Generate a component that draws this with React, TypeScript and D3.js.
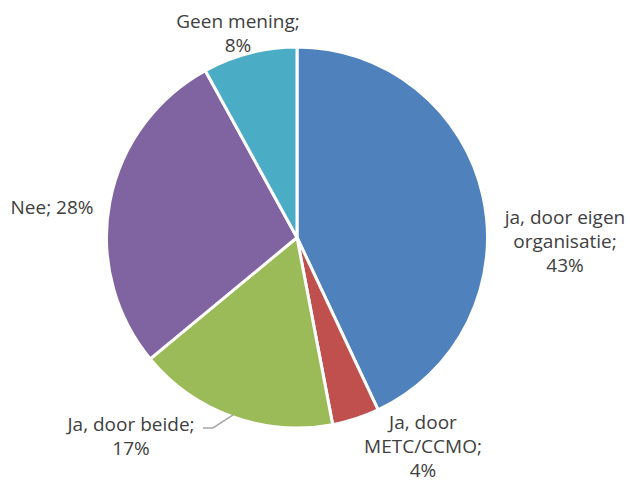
import React, { useEffect, useRef } from 'react';
import * as d3 from 'd3';

const categories = ['ja, door eigen organisatie', 'Ja, door METC/CCMO', 'Ja, door beide', 'Nee', 'Geen mening'];
const values = [43, 4, 17, 28, 8];
const labelLines = [
  ['ja, door eigen', 'organisatie;', '43%'],
  ['Ja, door', 'METC/CCMO;', '4%'],
  ['Ja, door beide;', '17%'],
  ['Nee; 28%'],
  ['Geen mening;', '8%'],
];
const colors = ['#4F81BD', '#C0504D', '#9BBB59', '#8064A2', '#4BACC6'];

// label anchor offsets relative to pie centre (first line centre)
const labelPos: [number, number][] = [
  [268, -20.5],
  [126, 184.5],
  [-166, 187],
  [-245, -30.5],
  [-59, -216],
];

export default function App() {
  const svgRef = useRef<SVGSVGElement>(null);

  useEffect(() => {
    if (!svgRef.current) return;
    const width = 631;
    const height = 489;
    const cx = 297;
    const cy = 237.5;
    const radius = 190.5;

    const svg = d3.select(svgRef.current);
    svg.selectAll('*').remove();
    svg.attr('width', width).attr('height', height);

    const g = svg.append('g').attr('transform', `translate(${cx},${cy})`);

    const pie = d3.pie<number>().sort(null).value((d) => d);
    const arcs = pie(values);
    const arc = d3.arc<d3.PieArcDatum<number>>().innerRadius(0).outerRadius(radius);

    g.selectAll('path')
      .data(arcs)
      .enter()
      .append('path')
      .attr('d', arc)
      .attr('fill', (_, i) => colors[i])
      .attr('stroke', '#fff')
      .attr('stroke-width', 3)
      .attr('stroke-linejoin', 'round')
      .append('title')
      .text((_, i) => categories[i]);

    // leader line for "Ja, door beide"
    const green = arcs[2];
    const mid = (green.startAngle + green.endAngle) / 2;
    const ex = Math.sin(mid) * radius * 0.99;
    const ey = -Math.cos(mid) * radius * 0.99;
    const lx = labelPos[2][0] + 72;
    const ly = labelPos[2][1] + 3.5;
    g.append('polyline')
      .attr('points', `${lx},${ly} ${lx + 10},${ly} ${ex},${ey}`)
      .attr('fill', 'none')
      .attr('stroke', '#a6a6a6')
      .attr('stroke-width', 1.5);

    labelLines.forEach((lines, i) => {
      const t = g.append('text')
        .attr('text-anchor', 'middle')
        .attr('font-family', '"Open Sans", "Liberation Sans", sans-serif')
        .attr('font-size', 19)
        .attr('fill', '#404040');
      lines.forEach((line, j) => {
        t.append('tspan')
          .attr('x', labelPos[i][0])
          .attr('y', labelPos[i][1] + j * 24)
          .attr('dy', '0.35em')
          .text(line);
      });
    });
  }, []);

  return (
    <div style={{ position: 'absolute', left: 0, top: 0 }}>
      <svg ref={svgRef} style={{ display: 'block' }} />
    </div>
  );
}
